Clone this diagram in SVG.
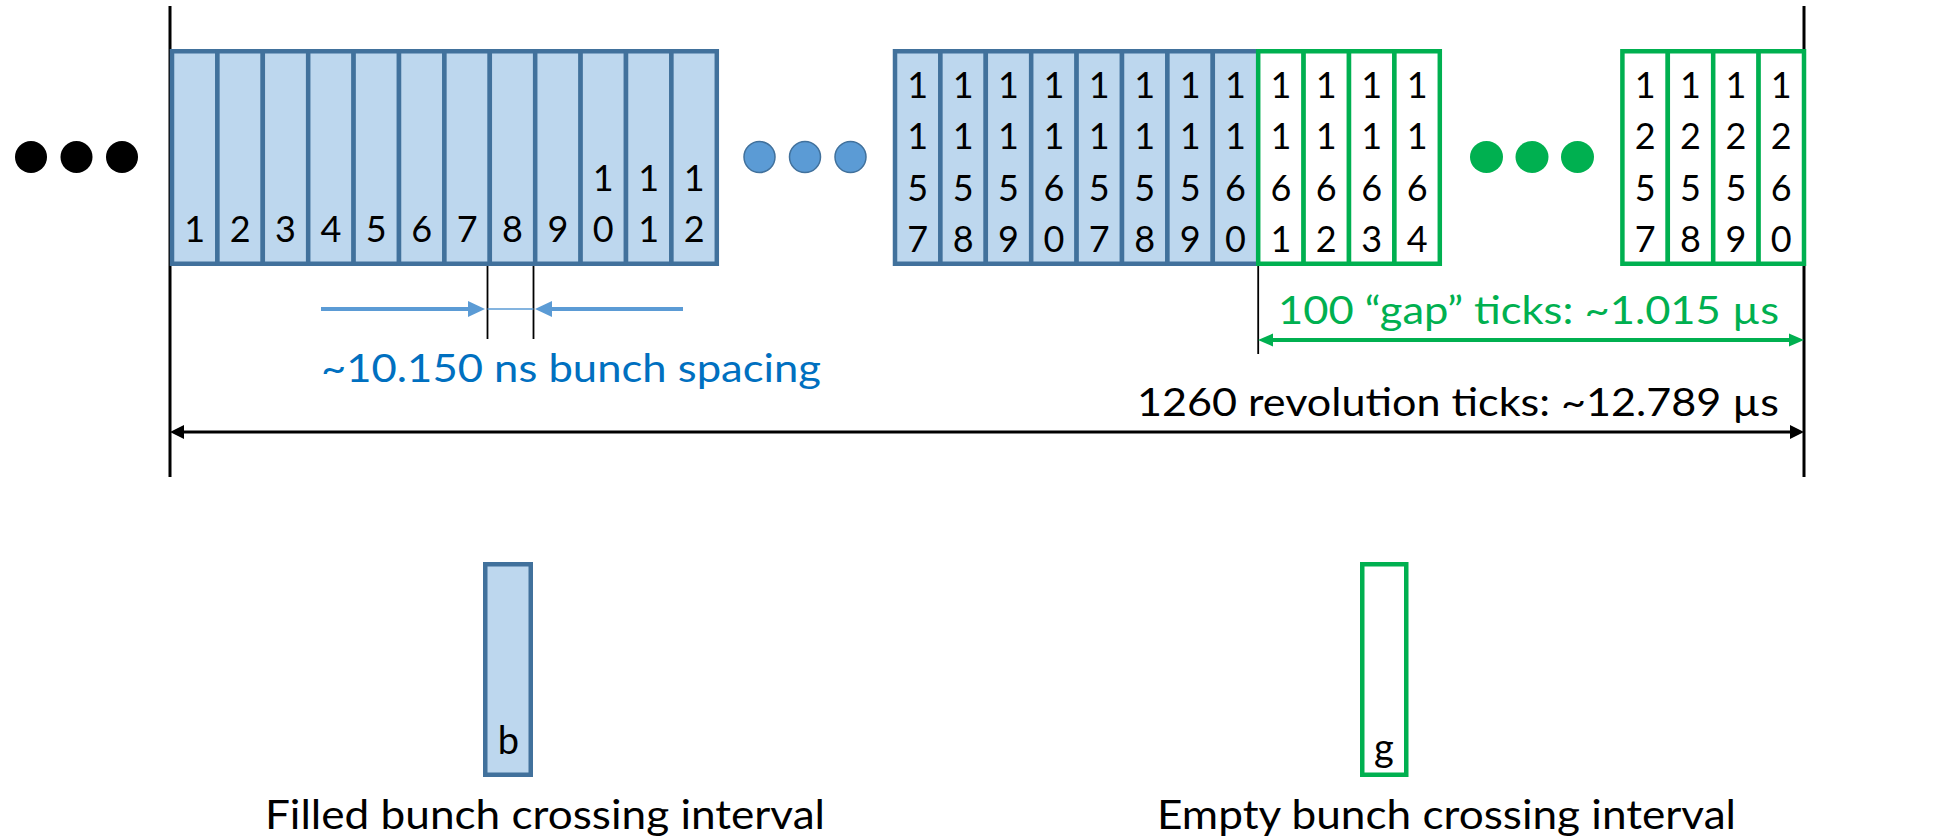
<svg xmlns="http://www.w3.org/2000/svg" width="1959" height="839" viewBox="0 0 1959 839">
  <defs>
    <style>
      .cellB { fill: #BDD7EE; stroke: #41719C; stroke-width: 4.5; }
      .cellG { fill: #FFFFFF; stroke: #00B050; stroke-width: 4.5; }
      .num { font-family: Lato, "Open Sans", "Liberation Sans", sans-serif; font-size: 36px; fill: #000000; text-anchor: middle; }
      .key { font-family: Lato, "Open Sans", "Liberation Sans", sans-serif; font-size: 38px; fill: #000000; text-anchor: middle; }
      .lbl { font-family: Lato, "Open Sans", "Liberation Sans", sans-serif; font-size: 38px; }
      .cap { font-family: Lato, "Open Sans", "Liberation Sans", sans-serif; font-size: 40px; fill: #000000; }
      .frame { stroke: #000000; stroke-width: 3; fill: none; }
      .tick { stroke: #000000; stroke-width: 1.8; fill: none; }
      .dotK { fill: #000000; }
      .dotB { fill: #5B9BD5; stroke: #41719C; stroke-width: 1.5; }
      .dotG { fill: #00B050; }
    </style>
    <marker id="arrK" markerUnits="userSpaceOnUse" markerWidth="16" markerHeight="16" refX="8" refY="7" orient="auto-start-reverse" viewBox="0 0 16 14">
      <path d="M0,0 L14,7 L0,14 z" fill="#000000"/>
    </marker>
    <marker id="arrG" markerUnits="userSpaceOnUse" markerWidth="16" markerHeight="14" refX="9" refY="6.5" orient="auto-start-reverse" viewBox="0 0 16 13">
      <path d="M0,0 L15,6.5 L0,13 z" fill="#00B050"/>
    </marker>
    <marker id="arrB" markerUnits="userSpaceOnUse" markerWidth="18" markerHeight="16" refX="10" refY="8" orient="auto" viewBox="0 0 18 16">
      <path d="M0,0 L17,8 L0,16 z" fill="#5B9BD5"/>
    </marker>
  </defs>

  <rect x="0" y="0" width="1959" height="839" fill="#FFFFFF"/>

  <!-- revolution boundaries -->
  <g id="frame">
    <line class="frame" x1="170" y1="6" x2="170" y2="477"/>
    <line class="frame" x1="1804" y1="6" x2="1804" y2="477"/>
  </g>

  <!-- continuation dots -->
  <g id="dots-left">
    <circle class="dotK" cx="31" cy="157" r="16"/>
    <circle class="dotK" cx="76.5" cy="157" r="16"/>
    <circle class="dotK" cx="122" cy="157" r="16"/>
  </g>
  <g id="dots-filled">
    <circle class="dotB" cx="759.5" cy="157" r="15.5"/>
    <circle class="dotB" cx="805" cy="157" r="15.5"/>
    <circle class="dotB" cx="850.5" cy="157" r="15.5"/>
  </g>
  <g id="dots-gap">
    <ellipse class="dotG" cx="1486.5" cy="157" rx="16.5" ry="16"/>
    <ellipse class="dotG" cx="1532" cy="157" rx="16.5" ry="16"/>
    <ellipse class="dotG" cx="1577.5" cy="157" rx="16.5" ry="16"/>
  </g>

  <!-- first train: bunches 1..12 -->
  <g id="train-start">
    <rect class="cellB" x="172" y="51.25" width="45.4" height="212.5"/>
    <rect class="cellB" x="217.4" y="51.25" width="45.4" height="212.5"/>
    <rect class="cellB" x="262.8" y="51.25" width="45.4" height="212.5"/>
    <rect class="cellB" x="308.2" y="51.25" width="45.4" height="212.5"/>
    <rect class="cellB" x="353.6" y="51.25" width="45.4" height="212.5"/>
    <rect class="cellB" x="399" y="51.25" width="45.4" height="212.5"/>
    <rect class="cellB" x="444.4" y="51.25" width="45.4" height="212.5"/>
    <rect class="cellB" x="489.8" y="51.25" width="45.4" height="212.5"/>
    <rect class="cellB" x="535.2" y="51.25" width="45.4" height="212.5"/>
    <rect class="cellB" x="580.6" y="51.25" width="45.4" height="212.5"/>
    <rect class="cellB" x="626" y="51.25" width="45.4" height="212.5"/>
    <rect class="cellB" x="671.4" y="51.25" width="45.4" height="212.5"/>
    <text class="num" x="194.7" y="242">1</text>
    <text class="num" x="240.1" y="242">2</text>
    <text class="num" x="285.5" y="242">3</text>
    <text class="num" x="330.9" y="242">4</text>
    <text class="num" x="376.3" y="242">5</text>
    <text class="num" x="421.7" y="242">6</text>
    <text class="num" x="467.1" y="242">7</text>
    <text class="num" x="512.5" y="242">8</text>
    <text class="num" x="557.9" y="242">9</text>
    <text class="num"><tspan x="603.3" y="190.5">1</tspan><tspan x="603.3" y="242">0</tspan></text>
    <text class="num"><tspan x="648.7" y="190.5">1</tspan><tspan x="648.7" y="242">1</tspan></text>
    <text class="num"><tspan x="694.1" y="190.5">1</tspan><tspan x="694.1" y="242">2</tspan></text>
  </g>

  <!-- last filled bunches and start of the gap -->
  <g id="train-end">
    <rect class="cellB" x="895" y="51.25" width="45.4" height="212.5"/>
    <rect class="cellB" x="940.4" y="51.25" width="45.4" height="212.5"/>
    <rect class="cellB" x="985.8" y="51.25" width="45.4" height="212.5"/>
    <rect class="cellB" x="1031.2" y="51.25" width="45.4" height="212.5"/>
    <rect class="cellB" x="1076.6" y="51.25" width="45.4" height="212.5"/>
    <rect class="cellB" x="1122" y="51.25" width="45.4" height="212.5"/>
    <rect class="cellB" x="1167.4" y="51.25" width="45.4" height="212.5"/>
    <rect class="cellB" x="1212.8" y="51.25" width="45.4" height="212.5"/>
    <rect class="cellG" x="1258.2" y="51.25" width="45.4" height="212.5"/>
    <rect class="cellG" x="1303.6" y="51.25" width="45.4" height="212.5"/>
    <rect class="cellG" x="1349" y="51.25" width="45.4" height="212.5"/>
    <rect class="cellG" x="1394.4" y="51.25" width="45.4" height="212.5"/>
    <text class="num"><tspan x="917.7" y="97.5">1</tspan><tspan x="917.7" y="149">1</tspan><tspan x="917.7" y="200.5">5</tspan><tspan x="917.7" y="252">7</tspan></text>
    <text class="num"><tspan x="963.1" y="97.5">1</tspan><tspan x="963.1" y="149">1</tspan><tspan x="963.1" y="200.5">5</tspan><tspan x="963.1" y="252">8</tspan></text>
    <text class="num"><tspan x="1008.5" y="97.5">1</tspan><tspan x="1008.5" y="149">1</tspan><tspan x="1008.5" y="200.5">5</tspan><tspan x="1008.5" y="252">9</tspan></text>
    <text class="num"><tspan x="1053.9" y="97.5">1</tspan><tspan x="1053.9" y="149">1</tspan><tspan x="1053.9" y="200.5">6</tspan><tspan x="1053.9" y="252">0</tspan></text>
    <text class="num"><tspan x="1099.3" y="97.5">1</tspan><tspan x="1099.3" y="149">1</tspan><tspan x="1099.3" y="200.5">5</tspan><tspan x="1099.3" y="252">7</tspan></text>
    <text class="num"><tspan x="1144.7" y="97.5">1</tspan><tspan x="1144.7" y="149">1</tspan><tspan x="1144.7" y="200.5">5</tspan><tspan x="1144.7" y="252">8</tspan></text>
    <text class="num"><tspan x="1190.1" y="97.5">1</tspan><tspan x="1190.1" y="149">1</tspan><tspan x="1190.1" y="200.5">5</tspan><tspan x="1190.1" y="252">9</tspan></text>
    <text class="num"><tspan x="1235.5" y="97.5">1</tspan><tspan x="1235.5" y="149">1</tspan><tspan x="1235.5" y="200.5">6</tspan><tspan x="1235.5" y="252">0</tspan></text>
    <text class="num"><tspan x="1280.9" y="97.5">1</tspan><tspan x="1280.9" y="149">1</tspan><tspan x="1280.9" y="200.5">6</tspan><tspan x="1280.9" y="252">1</tspan></text>
    <text class="num"><tspan x="1326.3" y="97.5">1</tspan><tspan x="1326.3" y="149">1</tspan><tspan x="1326.3" y="200.5">6</tspan><tspan x="1326.3" y="252">2</tspan></text>
    <text class="num"><tspan x="1371.7" y="97.5">1</tspan><tspan x="1371.7" y="149">1</tspan><tspan x="1371.7" y="200.5">6</tspan><tspan x="1371.7" y="252">3</tspan></text>
    <text class="num"><tspan x="1417.1" y="97.5">1</tspan><tspan x="1417.1" y="149">1</tspan><tspan x="1417.1" y="200.5">6</tspan><tspan x="1417.1" y="252">4</tspan></text>
  </g>

  <!-- end of the gap: ticks 1257..1260 -->
  <g id="gap-end">
    <rect class="cellG" x="1622.4" y="51.25" width="45.4" height="212.5"/>
    <rect class="cellG" x="1667.8" y="51.25" width="45.4" height="212.5"/>
    <rect class="cellG" x="1713.2" y="51.25" width="45.4" height="212.5"/>
    <rect class="cellG" x="1758.6" y="51.25" width="45.4" height="212.5"/>
    <text class="num"><tspan x="1645.1" y="97.5">1</tspan><tspan x="1645.1" y="149">2</tspan><tspan x="1645.1" y="200.5">5</tspan><tspan x="1645.1" y="252">7</tspan></text>
    <text class="num"><tspan x="1690.5" y="97.5">1</tspan><tspan x="1690.5" y="149">2</tspan><tspan x="1690.5" y="200.5">5</tspan><tspan x="1690.5" y="252">8</tspan></text>
    <text class="num"><tspan x="1735.9" y="97.5">1</tspan><tspan x="1735.9" y="149">2</tspan><tspan x="1735.9" y="200.5">5</tspan><tspan x="1735.9" y="252">9</tspan></text>
    <text class="num"><tspan x="1781.3" y="97.5">1</tspan><tspan x="1781.3" y="149">2</tspan><tspan x="1781.3" y="200.5">6</tspan><tspan x="1781.3" y="252">0</tspan></text>
  </g>

  <!-- dimension lines -->
  <g id="connectors">
    <line class="tick" x1="487.5" y1="266" x2="487.5" y2="339"/>
    <line class="tick" x1="533.5" y1="266" x2="533.5" y2="339"/>
    <line x1="321" y1="309" x2="478" y2="309" stroke="#5B9BD5" stroke-width="4" marker-end="url(#arrB)"/>
    <line x1="683" y1="309" x2="542" y2="309" stroke="#5B9BD5" stroke-width="4" marker-end="url(#arrB)"/>
    <line x1="487.5" y1="309" x2="533.5" y2="309" stroke="#5B9BD5" stroke-width="1.5"/>
    <line class="tick" x1="1258.2" y1="266" x2="1258.2" y2="354"/>
    <line x1="1264" y1="340" x2="1798" y2="340" stroke="#00B050" stroke-width="4" marker-start="url(#arrG)" marker-end="url(#arrG)"/>
    <line x1="176" y1="432" x2="1798" y2="432" stroke="#000000" stroke-width="3" marker-start="url(#arrK)" marker-end="url(#arrK)"/>
  </g>

  <g id="labels">
    <text class="lbl" x="321" y="381.7" fill="#0070C0" textLength="500" lengthAdjust="spacingAndGlyphs">~10.150 ns bunch spacing</text>
    <text class="lbl" x="1278" y="324" fill="#00B050" textLength="501" lengthAdjust="spacingAndGlyphs">100 “gap” ticks: ~1.015 µs</text>
    <text class="lbl" x="1137" y="415.6" fill="#000000" textLength="642" lengthAdjust="spacingAndGlyphs">1260 revolution ticks: ~12.789 µs</text>
  </g>

  <!-- legend -->
  <g id="legend-filled">
    <rect class="cellB" x="485.25" y="564.25" width="45.5" height="210.5"/>
    <text class="key" x="508.5" y="754">b</text>
    <text class="cap" x="265" y="829" textLength="560" lengthAdjust="spacingAndGlyphs">Filled bunch crossing interval</text>
  </g>
  <g id="legend-empty">
    <rect class="cellG" x="1362.25" y="564.25" width="44" height="210.5"/>
    <text class="key" x="1384" y="761">g</text>
    <text class="cap" x="1157" y="829" textLength="579" lengthAdjust="spacingAndGlyphs">Empty bunch crossing interval</text>
  </g>
</svg>
